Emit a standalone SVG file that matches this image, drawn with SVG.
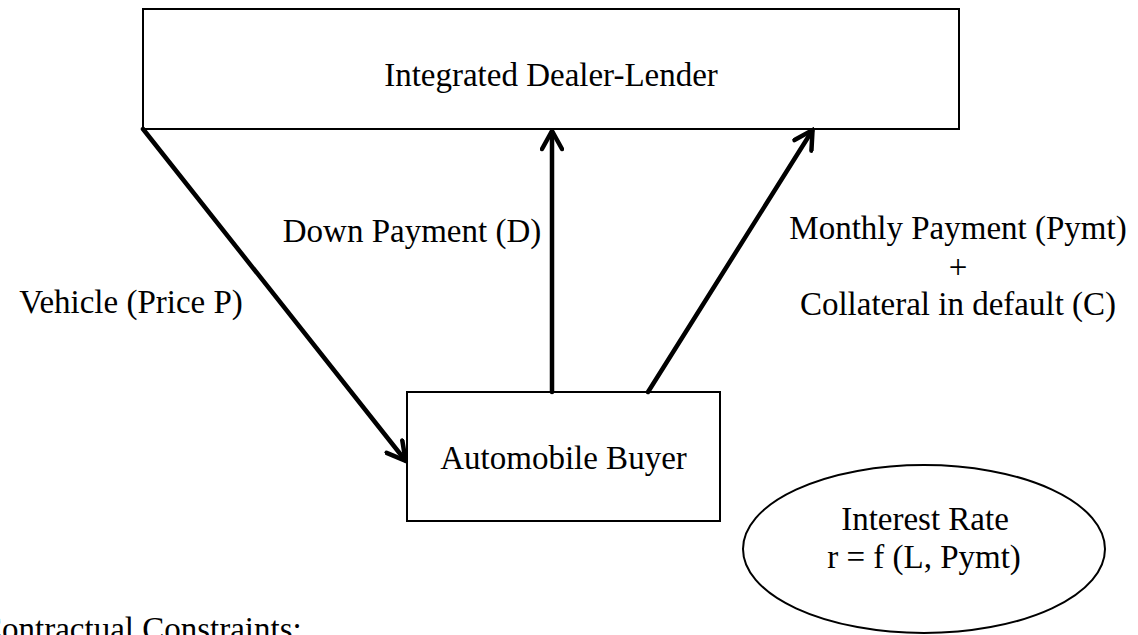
<svg xmlns="http://www.w3.org/2000/svg" width="1138" height="635" viewBox="0 0 1138 635">
<style>
  .box { fill: #ffffff; stroke: #000000; stroke-width: 2; }
  .lbl { font-family: "Liberation Serif", "Times New Roman", serif; font-size: 33px; fill: #000000; }
  .mid { text-anchor: middle; }
  .conn { stroke: #000000; stroke-width: 4.5; fill: none; stroke-linecap: round; }
</style>
<defs>
  <marker id="arr" viewBox="0 0 24 24" refX="20" refY="12" markerUnits="userSpaceOnUse" markerWidth="24" markerHeight="24" orient="auto">
    <path d="M3,2 L21,12 L3,22" fill="none" stroke="#000000" stroke-width="4.5" stroke-linecap="round" stroke-linejoin="miter"/>
  </marker>
</defs>
<rect width="1138" height="635" fill="#ffffff"/>

<g id="dealer-lender">
  <rect class="box" x="143" y="9" width="816" height="120"/>
  <text class="lbl mid" x="551" y="86">Integrated Dealer-Lender</text>
</g>

<g id="buyer">
  <rect class="box" x="407" y="392" width="313" height="129"/>
  <text class="lbl mid" x="563.5" y="469">Automobile Buyer</text>
</g>

<g id="interest-rate">
  <ellipse class="box" cx="924" cy="549" rx="181" ry="84"/>
  <text class="lbl mid" x="925" y="530">Interest Rate</text>
  <text class="lbl mid" x="924" y="568">r = f (L, Pymt)</text>
</g>

<g id="connectors">
  <line class="conn" x1="143" y1="129" x2="405" y2="460" marker-end="url(#arr)"/>
  <line class="conn" x1="552" y1="392" x2="552" y2="132" marker-end="url(#arr)"/>
  <line class="conn" x1="648" y1="392" x2="812" y2="131" marker-end="url(#arr)"/>
</g>

<g id="labels">
  <text class="lbl mid" x="131" y="313">Vehicle (Price P)</text>
  <text class="lbl mid" x="412" y="242">Down Payment (D)</text>
  <text class="lbl mid" x="958" y="239">Monthly Payment (Pymt)</text>
  <text class="lbl mid" x="958" y="278">+</text>
  <text class="lbl mid" x="958" y="315">Collateral in default (C)</text>
  <text class="lbl" x="-20" y="640">Contractual Constraints:</text>
</g>
</svg>
